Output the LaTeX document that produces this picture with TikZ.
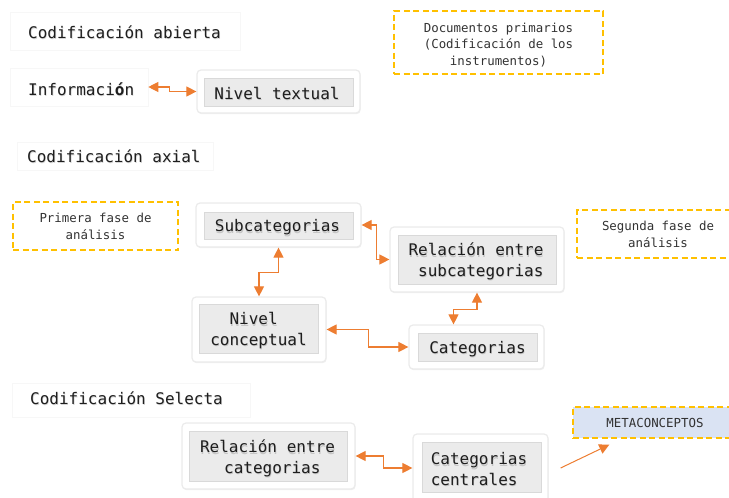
\documentclass[tikz,border=0pt]{standalone}
\usepackage{fontspec}
\setmainfont{DejaVu Sans Mono}
\usetikzlibrary{arrows.meta,shadows}
\definecolor{orng}{RGB}{237,125,49}
\definecolor{ylw}{RGB}{255,192,0}
\definecolor{metab}{RGB}{218,227,243}
\definecolor{txt}{RGB}{30,30,30}
\definecolor{txtb}{RGB}{50,50,50}
\newcommand\shnode[4]{%
  \node[#3, text=black, text opacity=0.16, xshift=0.6pt, yshift=-1.3pt] at (#2) {#4};
  \node[#3] (#1) at (#2) {#4};}
\begin{document}
\begin{tikzpicture}[x=1pt,y=-1pt,
  big/.style={font=\fontsize{16}{20.5}\selectfont, text=txt},
  small/.style={font=\fontsize{12.4}{16.8}\selectfont, text=txtb},
  outerbox/.style={draw=black!8, line width=1.2pt, fill=white, rounded corners=4pt, inner sep=0pt,
    drop shadow={shadow xshift=0.6pt, shadow yshift=-1.2pt, opacity=0.12}},
  innerbox/.style={draw=black!15, line width=1pt, fill=black!8, inner sep=0pt},
  boxtext/.style={big, inner sep=0pt, align=center},
  faintbox/.style={draw=black!3, line width=0.6pt, inner sep=0pt},
  title/.style={big, anchor=west, inner sep=0pt, text height=0.72em, text depth=0.2em},
  dashbox/.style={small, draw=ylw, line width=1.4pt, dash pattern=on 6pt off 3.5pt, inner sep=0pt, align=center},
  biarrow/.style={draw=orng, line width=1.1pt, {Triangle[length=10pt,width=10pt]}-{Triangle[length=10pt,width=10pt]}},
  onearrow/.style={draw=orng, line width=1pt, -{Triangle[length=10pt,width=10pt]}}
]
\useasboundingbox (0,0) rectangle (729,498);

% titles
\node[faintbox, minimum width=230pt, minimum height=38pt] (abiertabox) at (125,31) {};
\shnode{abierta}{28,36}{title}{Codificación abierta}
\node[faintbox, minimum width=138pt, minimum height=38pt] (info) at (79,87) {};
\shnode{infot}{28,93}{title}{Informaci\textbf{ó}n}
\node[faintbox, minimum width=196pt, minimum height=28pt] (axialbox) at (115,156) {};
\shnode{axial}{27,159.5}{title}{Codificación axial}
\node[faintbox, minimum width=238pt, minimum height=34pt] (selbox) at (131,400) {};
\shnode{sel}{30,401.5}{title}{Codificación Selecta}

% dashed notes
\node[dashbox, minimum width=209pt, minimum height=63pt] (docs) at (498.5,42.5) {};
\node[small, align=center, inner sep=0pt] (docs-t) at (498.5,45) {Documentos primarios\\(Codificación de los\\instrumentos)};
\node[dashbox, minimum width=165pt, minimum height=48pt] (prim) at (95.5,226) {Primera fase de\\análisis};
\node[dashbox, minimum width=162pt, minimum height=48pt] (seg) at (658,234) {Segunda fase de\\análisis};
\node[dashbox, fill=metab, minimum width=164pt, minimum height=31pt] (meta) at (655,422.5) {METACONCEPTOS};

% boxes
\node[outerbox, minimum width=163pt, minimum height=43pt] (ntext) at (278.5,91.5) {};
\node[innerbox, minimum width=149pt, minimum height=28pt] (ntext-in) at (278.5,92) {};
\shnode{ntext-t}{277,93.5}{boxtext}{Nivel textual}

\node[outerbox, minimum width=165pt, minimum height=44pt] (sub) at (278.5,225) {};
\node[innerbox, minimum width=149pt, minimum height=27pt] (sub-in) at (278.5,225.5) {};
\shnode{sub-t}{277.5,227.5}{boxtext}{Subcategorias}

\node[outerbox, minimum width=134pt, minimum height=65pt] (nc) at (259,329.5) {};
\node[innerbox, minimum width=119pt, minimum height=49pt] (nc-in) at (258.5,328.5) {};
\shnode{nc-t}{258.5,330.5}{boxtext}{Nivel\hphantom{x}\\conceptual}

\node[outerbox, minimum width=174pt, minimum height=65pt] (relsub) at (477,259.5) {};
\node[innerbox, minimum width=158pt, minimum height=49pt] (relsub-in) at (477,259.5) {};
\shnode{relsub-t}{476,261.5}{boxtext}{Relación entre\\\hphantom{x}subcategorias}

\node[outerbox, minimum width=135pt, minimum height=44pt] (cat) at (476.5,347) {};
\node[innerbox, minimum width=119pt, minimum height=28pt] (cat-in) at (477.5,347) {};
\shnode{cat-t}{477.5,349}{boxtext}{Categorias}

\node[outerbox, minimum width=173pt, minimum height=66pt] (relcat) at (268.5,456) {};
\node[innerbox, minimum width=158pt, minimum height=50pt] (relcat-in) at (268,456) {};
\shnode{relcat-t}{267.5,458.5}{boxtext}{Relación entre\\\hphantom{x}categorias}

\node[outerbox, minimum width=135pt, minimum height=68pt] (catc) at (480.5,468) {};
\node[innerbox, minimum width=119pt, minimum height=50pt] (catc-in) at (481.5,467) {};
\shnode{catc-t}{479,469}{boxtext, align=left}{Categorias\\centrales}

% connectors
\draw[biarrow] (info.east) -- ++(21,0) |- (ntext.west);
\draw[biarrow] (sub.east) -- ++(15,0) |- (relsub.west);
\draw[biarrow] (sub.south) -- ++(0,25) -| (nc.north);
\draw[biarrow] (nc.east) -- ++(42,0) |- (cat.west);
\draw[biarrow] (relsub.south) -- ++(0,17) -| ([xshift=-23pt]cat.north);
\draw[biarrow] (relcat.east) -- ++(28,0) |- (catc.west);
\draw[onearrow] ([xshift=12pt]catc.east) -- ([xshift=37pt,yshift=-6pt]meta.south west);
\end{tikzpicture}
\end{document}
